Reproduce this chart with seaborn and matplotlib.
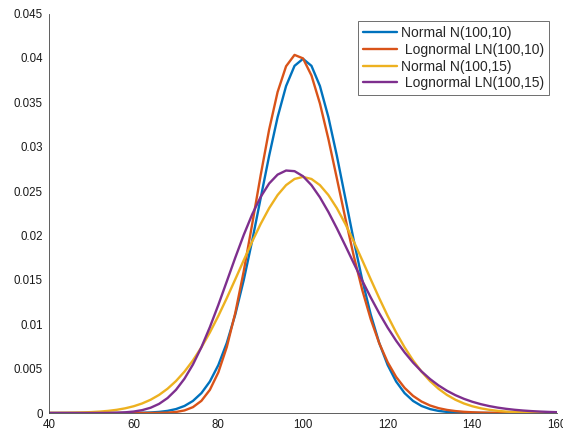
import numpy as np
import pandas as pd
import seaborn as sns
import matplotlib
matplotlib.use("Agg")
import matplotlib.pyplot as plt

x_vals = list(range(40, 161, 2))

labels = ["Normal N(100,10)", " Lognormal LN(100,10)",
          "Normal N(100,15)", " Lognormal LN(100,15)"]
colors = ["#0072BD", "#D95319", "#EDB120", "#7E2F8E"]

normal_10 = [0, 0, 0, 0, 0, 0, 0, 0, 0,
             0.000006, 0.000013, 0.000029, 0.000061, 0.000123, 0.000238,
             0.000443, 0.000792, 0.001358, 0.002239, 0.003547, 0.005399,
             0.007895, 0.011092, 0.014973, 0.019419, 0.024197, 0.028969,
             0.033322, 0.036827, 0.039104,
             0.039894,
             0.039104, 0.036827, 0.033322, 0.028969, 0.024197, 0.019419,
             0.014973, 0.011092, 0.007895, 0.005399, 0.003547, 0.002239,
             0.001358, 0.000792, 0.000443, 0.000238, 0.000123, 0.000061,
             0.000029, 0.000013, 0.000006,
             0, 0, 0, 0, 0, 0, 0, 0, 0]

lognormal_10 = [0, 0, 0, 0, 0, 0, 0, 0, 0, 0, 0,
                0.000001, 0.000004, 0.000013, 0.000040, 0.000114, 0.000289,
                0.000659, 0.001369, 0.002607, 0.004572, 0.007435, 0.011262,
                0.015969, 0.021287, 0.026783, 0.031918, 0.036158, 0.039055,
                0.040337, 0.039944, 0.038018, 0.034860, 0.030860, 0.026428,
                0.021934, 0.017674, 0.013848, 0.010569, 0.007867, 0.005718,
                0.004065, 0.002828, 0.001928, 0.001290, 0.000848, 0.000548,
                0.000348, 0.000218, 0.000134, 0.000082, 0.000049, 0.000029,
                0.000017, 0.000010, 0.000006, 0.000003, 0.000002, 0.000001,
                0.000001, 0.0]

normal_15 = [0.000009, 0.000015, 0.000025, 0.000041, 0.000065, 0.000103,
             0.000159, 0.000241, 0.000360, 0.000528, 0.000760, 0.001074,
             0.001493, 0.002037, 0.002733, 0.003600, 0.004658, 0.005921,
             0.007395, 0.009072, 0.010934, 0.012946, 0.015057, 0.017205,
             0.019313, 0.021297, 0.023070, 0.024551, 0.025667, 0.026361,
             0.026596,
             0.026361, 0.025667, 0.024551, 0.023070, 0.021297, 0.019313,
             0.017205, 0.015057, 0.012946, 0.010934, 0.009072, 0.007395,
             0.005921, 0.004658, 0.003600, 0.002733, 0.002037, 0.001493,
             0.001074, 0.000760, 0.000528, 0.000360, 0.000241, 0.000159,
             0.000103, 0.000065, 0.000041, 0.000025, 0.000015, 0.000009]

lognormal_15 = [0, 0, 0, 0, 0, 0.000002, 0.000005, 0.000013, 0.000033,
                0.000077, 0.000163, 0.000322, 0.000593, 0.001027, 0.001682,
                0.002611, 0.003863, 0.005462, 0.007409, 0.009670, 0.012175,
                0.014825, 0.017497, 0.020058, 0.022379, 0.024341, 0.025853,
                0.026852, 0.027312, 0.027240, 0.026671, 0.025663, 0.024292,
                0.022643, 0.020802, 0.018850, 0.016861, 0.014898, 0.013013,
                0.011243, 0.009613, 0.008140, 0.006828, 0.005678, 0.004683,
                0.003831, 0.003111, 0.002509, 0.002009, 0.001599, 0.001265,
                0.000995, 0.000778, 0.000605, 0.000469, 0.000361, 0.000277,
                0.000212, 0.000161, 0.000122, 0.000092]

x_ticks = [40, 60, 80, 100, 120, 140, 160]
y_ticks = [0, 0.005, 0.01, 0.015, 0.02, 0.025, 0.03, 0.035, 0.04, 0.045]
y_tick_labels = ["0", "0.005", "0.01", "0.015", "0.02", "0.025", "0.03",
                 "0.035", "0.04", "0.045"]

series = [normal_10, lognormal_10, normal_15, lognormal_15]
frames = []
for lab, vals in zip(labels, series):
    frames.append(pd.DataFrame({"x": x_vals, "y": vals, "dist": lab}))
df = pd.concat(frames, ignore_index=True)

sns.set_theme(style="white")
plt.rcParams["font.family"] = ["Liberation Sans", "DejaVu Sans"]

fig = plt.figure(figsize=(5.63, 4.32), dpi=100)
ax = fig.add_axes([49 / 563, 1 - 413 / 432, (557 - 49) / 563, (413 - 13.5) / 432])

sns.lineplot(data=df, x="x", y="y", hue="dist", hue_order=labels,
             palette=colors, linewidth=1.7, ax=ax, legend=True)

ax.set_xlim(40, 160)
ax.set_ylim(0, 0.045)
ax.set_xticks(x_ticks)
ax.set_xticklabels([str(v) for v in x_ticks])
ax.set_yticks(y_ticks)
ax.set_yticklabels(y_tick_labels)
ax.set_xlabel("")
ax.set_ylabel("")

for side in ["top", "right"]:
    ax.spines[side].set_visible(False)
for side in ["left", "bottom"]:
    ax.spines[side].set_color("#444444")
    ax.spines[side].set_linewidth(0.6)

ax.tick_params(axis="both", direction="in", length=3.4, width=0.6,
               colors="#444444", labelsize=8.3, pad=4.5)
ax.tick_params(axis="both", labelcolor="#1a1a1a")

leg = ax.legend(loc="upper right", fontsize=10, frameon=True, fancybox=False,
                borderaxespad=0.55, handlelength=2.45, handletextpad=0.3,
                labelspacing=0.2, borderpad=0.35)
leg.get_frame().set_edgecolor("#6e6e6e")
leg.get_frame().set_linewidth(0.7)
leg.get_frame().set_alpha(1)
for line in leg.get_lines():
    line.set_linewidth(1.7)

fig.savefig("out.png", dpi=100)
